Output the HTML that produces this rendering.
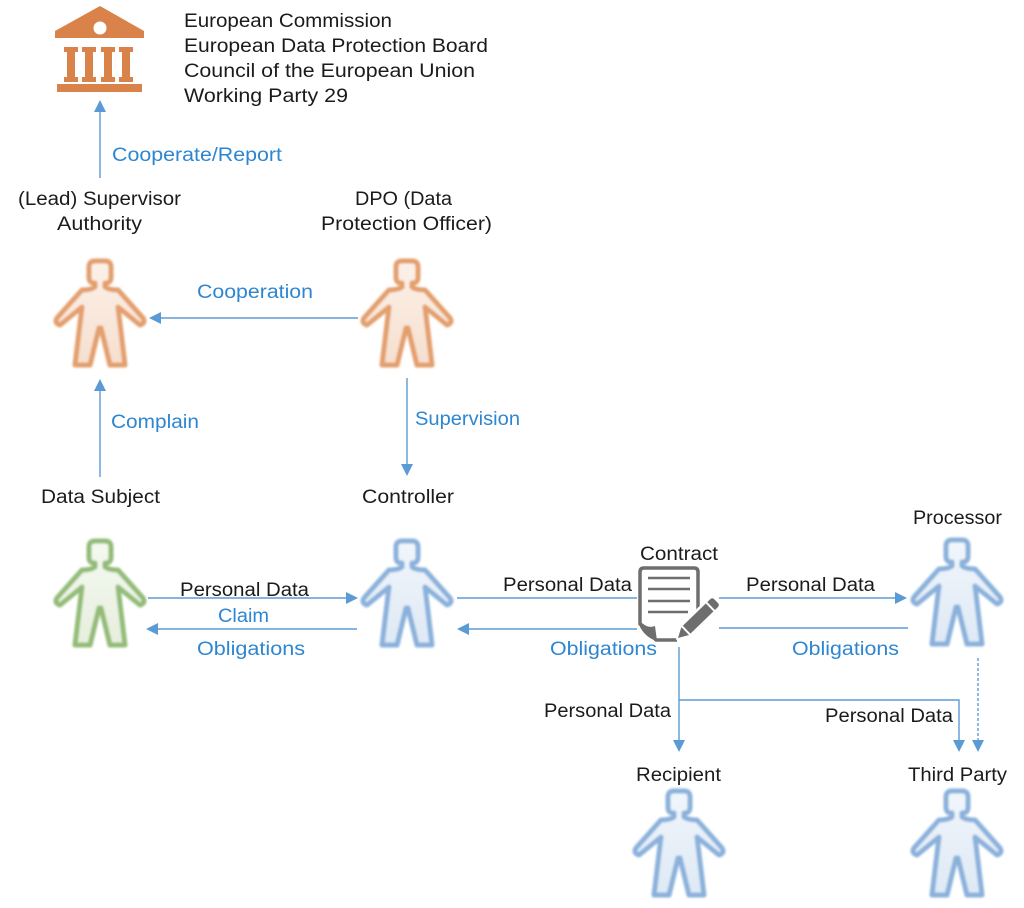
<!DOCTYPE html>
<html>
<head>
<meta charset="utf-8">
<style>
html,body{margin:0;padding:0;background:#fff;}
svg{display:block;}
text{font-family:"Liberation Sans","DejaVu Sans",sans-serif;font-size:19px;}
.k{fill:#1b1b1b;}
.b{fill:#2E86D1;}
.ln{stroke:#5B9BD5;stroke-width:1.4;fill:none;}
.ah{fill:#5B9BD5;}
</style>
</head>
<body>
<svg width="1024" height="908" viewBox="0 0 1024 908" xmlns="http://www.w3.org/2000/svg">
<defs>
  <path id="body" d="M41 27 L41 23 L40 23 Q35 23 35 17 L35 7 Q35 1 41 1 L51 1 Q57 1 57 7 L57 17 Q57 23 52 23 L51 23 L51 27 Q55 30 64 30 L89 58 Q92 63 86 65 L64 47 L71 105 L56 105 L47 68 L45 68 L36 105 L21 105 L28 47 L6 65 Q0 63 3 58 L28 30 Q37 30 41 27 Z" stroke-width="5" stroke-linejoin="round"/>
  <filter id="soft" x="-10%" y="-10%" width="120%" height="120%">
    <feGaussianBlur stdDeviation="1.1"/>
  </filter>
  <linearGradient id="gO" x1="0" y1="0" x2="0" y2="1">
    <stop offset="0" stop-color="#FCF1E9"/><stop offset="1" stop-color="#F6DFCF"/>
  </linearGradient>
  <linearGradient id="gG" x1="0" y1="0" x2="0" y2="1">
    <stop offset="0" stop-color="#F5F9F1"/><stop offset="1" stop-color="#E6EFDD"/>
  </linearGradient>
  <linearGradient id="gB" x1="0" y1="0" x2="0" y2="1">
    <stop offset="0" stop-color="#F1F6FB"/><stop offset="1" stop-color="#DEE9F5"/>
  </linearGradient>
</defs>

<rect width="1024" height="908" fill="#fff"/>

<!-- Building icon -->
<g fill="#D9824A">
  <polygon points="100,6 55,31 55,38 144,38 144,31"/>
  <circle cx="100" cy="28" r="6.5" fill="#fff"/>
  <g>
    <rect x="64" y="47" width="14" height="5"/><rect x="67" y="51" width="8" height="27"/><rect x="64" y="77" width="14" height="5"/>
    <rect x="82" y="47" width="14" height="5"/><rect x="85" y="51" width="8" height="27"/><rect x="82" y="77" width="14" height="5"/>
    <rect x="101" y="47" width="14" height="5"/><rect x="104" y="51" width="8" height="27"/><rect x="101" y="77" width="14" height="5"/>
    <rect x="119" y="47" width="14" height="5"/><rect x="122" y="51" width="8" height="27"/><rect x="119" y="77" width="14" height="5"/>
  </g>
  <rect x="57" y="84" width="85" height="8"/>
</g>

<!-- Top-right text -->
<text class="k" x="184" y="27" textLength="208" lengthAdjust="spacingAndGlyphs">European Commission</text>
<text class="k" x="184" y="52" textLength="304" lengthAdjust="spacingAndGlyphs">European Data Protection Board</text>
<text class="k" x="184" y="77" textLength="291" lengthAdjust="spacingAndGlyphs">Council of the European Union</text>
<text class="k" x="184" y="102" textLength="164" lengthAdjust="spacingAndGlyphs">Working Party 29</text>

<!-- People -->
<use href="#body" x="54" y="260" fill="url(#gO)" stroke="#E39F6C" filter="url(#soft)"/>
<use href="#body" x="361" y="260" fill="url(#gO)" stroke="#E39F6C" filter="url(#soft)"/>
<use href="#body" x="54" y="540" fill="url(#gG)" stroke="#93BC77" filter="url(#soft)"/>
<use href="#body" x="361" y="540" fill="url(#gB)" stroke="#8AB1DB" filter="url(#soft)"/>
<use href="#body" x="911" y="539" fill="url(#gB)" stroke="#8AB1DB" filter="url(#soft)"/>
<use href="#body" x="633" y="790" fill="url(#gB)" stroke="#8AB1DB" filter="url(#soft)"/>
<use href="#body" x="911" y="790" fill="url(#gB)" stroke="#8AB1DB" filter="url(#soft)"/>

<!-- Labels -->
<text class="b" x="112" y="161" textLength="170" lengthAdjust="spacingAndGlyphs">Cooperate/Report</text>
<text class="k" x="18" y="205" textLength="163" lengthAdjust="spacingAndGlyphs">(Lead) Supervisor</text>
<text class="k" x="57" y="230" textLength="85" lengthAdjust="spacingAndGlyphs">Authority</text>
<text class="k" x="355" y="205" textLength="97" lengthAdjust="spacingAndGlyphs">DPO (Data</text>
<text class="k" x="321" y="230" textLength="171" lengthAdjust="spacingAndGlyphs">Protection Officer)</text>
<text class="b" x="197" y="298" textLength="116" lengthAdjust="spacingAndGlyphs">Cooperation</text>
<text class="b" x="111" y="428" textLength="88" lengthAdjust="spacingAndGlyphs">Complain</text>
<text class="b" x="415" y="425" textLength="105" lengthAdjust="spacingAndGlyphs">Supervision</text>
<text class="k" x="41" y="503" textLength="119" lengthAdjust="spacingAndGlyphs">Data Subject</text>
<text class="k" x="362" y="503" textLength="92" lengthAdjust="spacingAndGlyphs">Controller</text>
<text class="k" x="913" y="524" textLength="89" lengthAdjust="spacingAndGlyphs">Processor</text>
<text class="k" x="640" y="560" textLength="78" lengthAdjust="spacingAndGlyphs">Contract</text>
<text class="k" x="180" y="596" textLength="129" lengthAdjust="spacingAndGlyphs">Personal Data</text>
<text class="b" x="218" y="622" textLength="51" lengthAdjust="spacingAndGlyphs">Claim</text>
<text class="b" x="197" y="655" textLength="108" lengthAdjust="spacingAndGlyphs">Obligations</text>
<text class="k" x="503" y="591" textLength="129" lengthAdjust="spacingAndGlyphs">Personal Data</text>
<text class="k" x="746" y="591" textLength="129" lengthAdjust="spacingAndGlyphs">Personal Data</text>
<text class="b" x="550" y="655" textLength="107" lengthAdjust="spacingAndGlyphs">Obligations</text>
<text class="b" x="792" y="655" textLength="107" lengthAdjust="spacingAndGlyphs">Obligations</text>
<text class="k" x="544" y="717" textLength="127" lengthAdjust="spacingAndGlyphs">Personal Data</text>
<text class="k" x="825" y="722" textLength="128" lengthAdjust="spacingAndGlyphs">Personal Data</text>
<text class="k" x="636" y="781" textLength="85" lengthAdjust="spacingAndGlyphs">Recipient</text>
<text class="k" x="908" y="781" textLength="99" lengthAdjust="spacingAndGlyphs">Third Party</text>

<!-- Connectors -->
<line class="ln" x1="100" y1="178" x2="100" y2="110"/>
<polygon class="ah" points="100,100 94,112 106,112"/>

<line class="ln" x1="358" y1="318" x2="160" y2="318"/>
<polygon class="ah" points="149,318 161,312 161,324"/>

<line class="ln" x1="100" y1="477" x2="100" y2="390"/>
<polygon class="ah" points="100,379 94,391 106,391"/>

<line class="ln" x1="407" y1="378" x2="407" y2="465"/>
<polygon class="ah" points="407,476 401,464 413,464"/>

<line class="ln" x1="148" y1="598" x2="347" y2="598"/>
<polygon class="ah" points="358,598 346,592 346,604"/>

<line class="ln" x1="357" y1="629" x2="157" y2="629"/>
<polygon class="ah" points="146,629 158,623 158,635"/>

<line class="ln" x1="457" y1="598" x2="637" y2="598"/>

<line class="ln" x1="637" y1="629" x2="468" y2="629"/>
<polygon class="ah" points="457,629 469,623 469,635"/>

<line class="ln" x1="719" y1="598" x2="896" y2="598"/>
<polygon class="ah" points="907,598 895,592 895,604"/>

<line class="ln" x1="719" y1="628" x2="908" y2="628"/>

<line class="ln" x1="679" y1="647" x2="679" y2="741"/>
<polygon class="ah" points="679,752 673,740 685,740"/>

<polyline class="ln" points="679,700 959,700 959,741"/>
<polygon class="ah" points="959,752 953,740 965,740"/>

<line class="ln" x1="978" y1="658" x2="978" y2="741" stroke-dasharray="3,2"/>
<polygon class="ah" points="978,752 972,740 984,740"/>

<!-- Contract icon -->
<g>
  <path d="M698 616 L698 572 Q698 568 694 568 L644 568 Q640 568 640 572 L640 624 L656 640 L677 640" fill="#fff" stroke="#6E6E6E" stroke-width="3.5" stroke-linejoin="round"/>
  <path d="M640 621 Q647 629 655 626 L657 641 Q646 638 640 627 Z" fill="#6E6E6E"/>
  <g stroke="#6E6E6E" stroke-width="2.5">
    <line x1="648" y1="578" x2="690" y2="578"/>
    <line x1="648" y1="589" x2="690" y2="589"/>
    <line x1="648" y1="601" x2="690" y2="601"/>
    <line x1="648" y1="612" x2="688" y2="612"/>
  </g>
  <g transform="translate(678,638) rotate(-44)">
    <path d="M0 0 L11 -6.5 L50 -6.5 Q54 -6.5 54 -2.5 L54 2.5 Q54 6.5 50 6.5 L11 6.5 Z" fill="#fff" stroke="#fff" stroke-width="3"/>
    <polygon points="0,0 10,-5.5 10,5.5" fill="#6E6E6E"/>
    <rect x="12" y="-5.5" width="32" height="11" fill="#6E6E6E"/>
    <path d="M46 -5.5 L50 -5.5 Q53 -5.5 53 -2.5 L53 2.5 Q53 5.5 50 5.5 L46 5.5 Z" fill="#6E6E6E"/>
  </g>
</g>
</svg>
</body>
</html>
